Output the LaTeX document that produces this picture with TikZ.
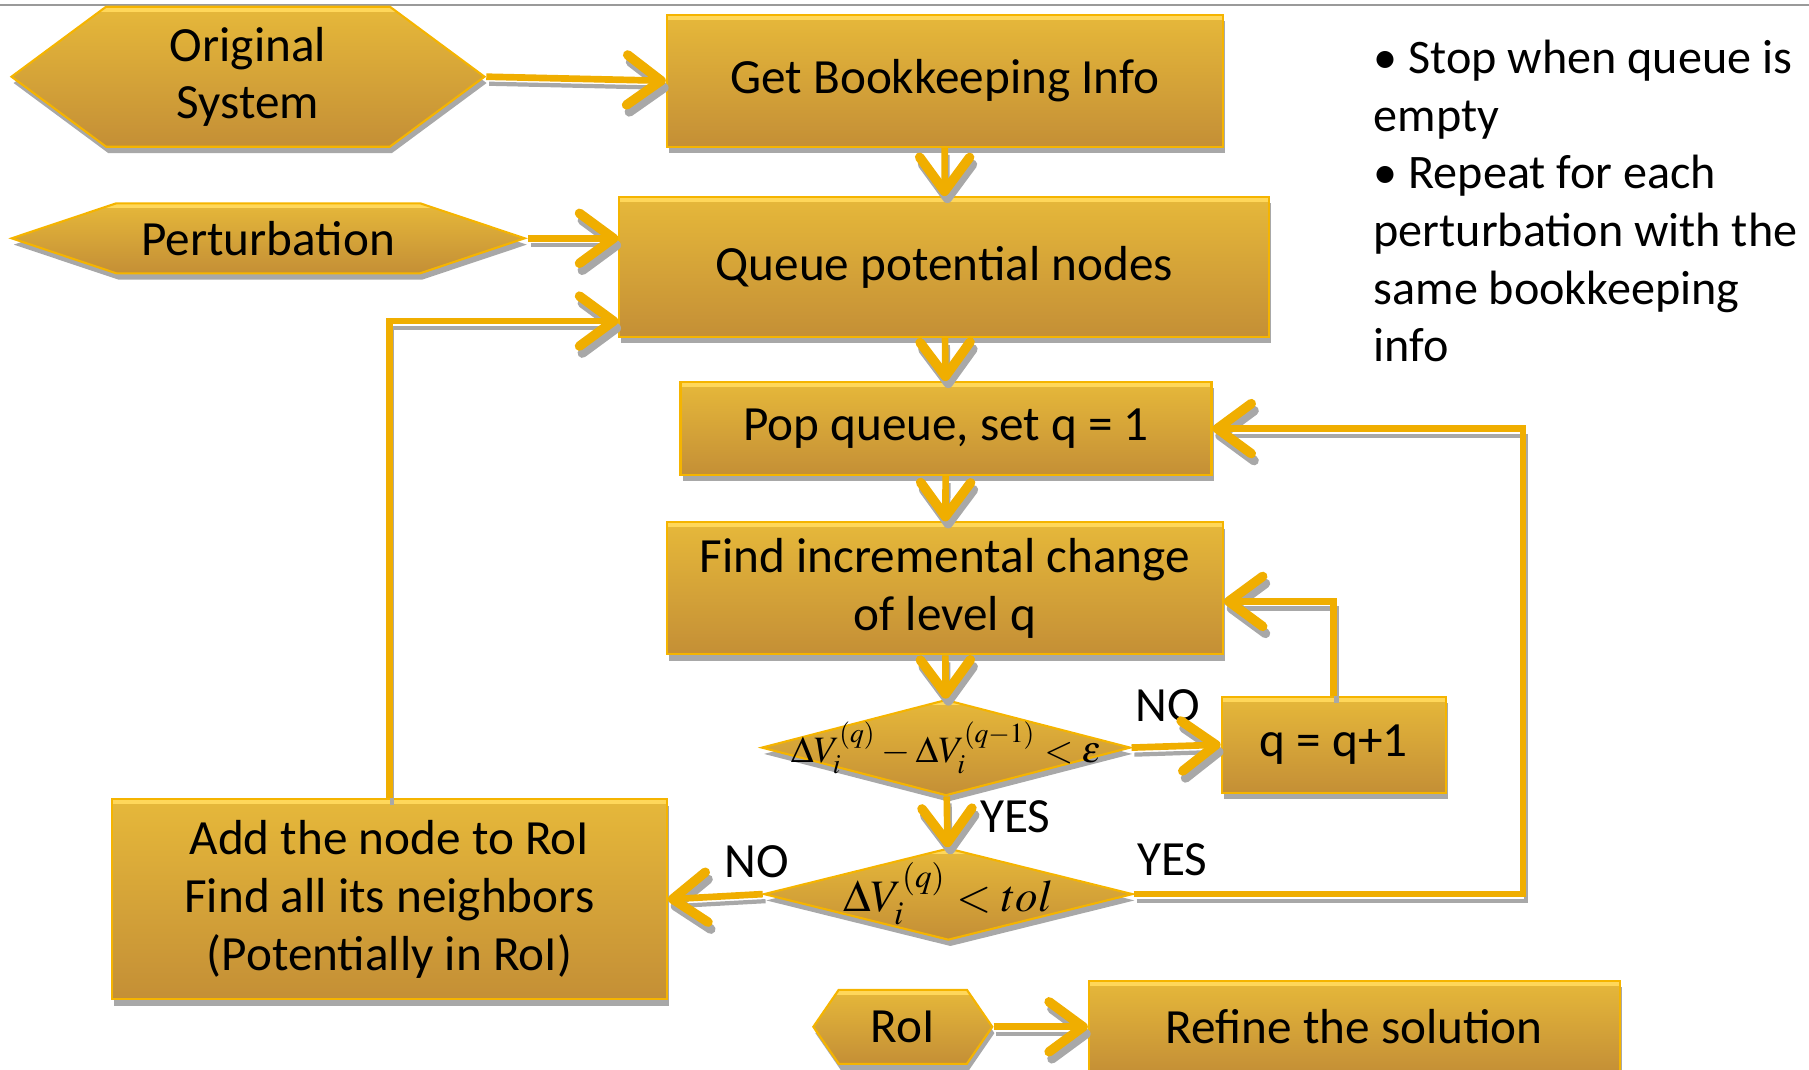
\documentclass[tikz,border=0pt]{standalone}
\usepackage{mathptmx}
\usepackage[no-math]{fontspec}
\setmainfont{Carlito}
\usetikzlibrary{arrows.meta,positioning,shapes.geometric,shapes.symbols,shadows}
\definecolor{goldtop}{HTML}{E6B83A}
\definecolor{goldbot}{HTML}{C48F36}
\definecolor{rim}{HTML}{F5B400}
\definecolor{gloss}{HTML}{FFD75A}
\definecolor{amber}{HTML}{F0AE00}
\definecolor{shade}{HTML}{A8A8A8}
\definecolor{rulegray}{HTML}{9A9A9A}
\newcommand\boxfont{\fontsize{14}{16.4}\selectfont}
\tikzset{
  base/.style={top color=goldtop, bottom color=goldbot, draw=rim, line width=0.6pt, align=center, inner sep=2pt, font=\boxfont, text=black,
    general shadow={fill=shade, shadow xshift=0.6pt, shadow yshift=-1.8pt},
    path picture={\fill[gloss] ([yshift=-0.05cm]path picture bounding box.north west) rectangle (path picture bounding box.north east);}},
  box/.style={base, rectangle},
  hexa/.style={base, signal, signal to=west and east, signal pointer angle=#1},
  dia/.style={base, diamond, inner sep=0pt},
  arr/.style={draw=amber, line width=1.9pt, -{Straight Barb[length=3.4mm,width=5mm,line width=2.7pt,round]},
    preaction={draw=shade, line width=1.2pt, transform canvas={shift={(0.8pt,-2pt)}}}},
  lab/.style={font=\boxfont, text=black, inner sep=0pt},
}
\begin{document}
\begin{tikzpicture}
  \useasboundingbox (0,0) rectangle (18.09,10.695);
  \clip (0,0) rectangle (18.09,10.695);
  \draw[rulegray, line width=0.7pt] (0,10.645) -- (18.09,10.645);

  % main column
  \node[box, minimum width=5.56cm, minimum height=1.32cm] (get) at (9.449,9.887) {Get Bookkeeping Info};
  \node[box, minimum width=6.50cm, minimum height=1.40cm] (queue) at (9.443,8.024) {Queue potential nodes};
  \node[box, minimum width=5.31cm, minimum height=0.93cm] (pop) at (9.460,6.409) {Pop queue, set q = 1};
  \node[box, minimum width=5.56cm, minimum height=1.32cm] (find) at (9.449,4.811) {Find incremental change\\of level q};
  \node[dia, minimum width=3.69cm, minimum height=0.96cm,
    label={[font=\fontsize{10.6}{12}\selectfont]center:$\Delta V_i^{(q)}-\Delta V_i^{(q-1)}<\varepsilon$}] (d1) at (9.460,3.219) {};
  \node[dia, minimum width=3.69cm, minimum height=0.92cm,
    label={[font=\fontsize{12.8}{15}\selectfont]center:$\Delta V_i^{(q)}<tol$}] (d2) at (9.483,1.754) {};
  \node[box, minimum width=2.24cm, minimum height=0.96cm] (q1) at (13.337,3.248) {q = q+1};
  \node[box, minimum width=5.55cm, minimum height=2.00cm] (add) at (3.894,1.702) {Add the node to RoI\\Find all its neighbors\\(Potentially in RoI)};

  % inputs
  \node[hexa=73, minimum width=4.73cm, minimum height=1.40cm] (orig) at (2.480,9.928) {Original\\System};
  \node[hexa=37, minimum width=5.13cm, minimum height=0.70cm] (pert) at (2.682,8.312) {Perturbation};
  \node[hexa=111, minimum width=1.79cm, minimum height=0.74cm] (roi) at (9.028,0.427) {RoI};
  \node[box, minimum width=5.31cm, minimum height=0.92cm] (refine) at (13.544,0.427) {Refine the solution};

  \node[anchor=north west, align=left, font=\fontsize{13.7}{16.4}\selectfont, inner sep=0pt] (notes) at (13.73,10.30)
    {• Stop when queue is\\empty\\• Repeat for each\\perturbation with the\\same bookkeeping\\info};

  \node[lab] (no1) at (11.676,3.634) {NO};
  \node[lab] (yes1) at (10.153,2.527) {YES};
  \node[lab] (no2) at (7.568,2.077) {NO};
  \node[lab] (yes2) at (11.722,2.100) {YES};

  \coordinate (back) at (15.23,6.409);

  \foreach \a/\b in {get/queue, queue/pop, pop/find, find/d1, d1/d2}
    \draw[arr] (\a) -- (\b);
  \draw[arr] (orig.east) -- (get.west);
  \draw[arr] (pert.east) -- (pert.east -| queue.west);
  \draw[arr] (add.north) |- ([yshift=-0.54cm]queue.west);
  \draw[arr] (d1.east) -- (q1.west);
  \draw[arr] (q1.north) |- ([yshift=-0.13cm]find.east);
  \draw[arr] (d2.west) -- (add.east);
  \draw[arr] (d2.east) -| (back) -- (pop.east);
  \draw[arr] (roi.east) -- (refine.west);
\end{tikzpicture}
\end{document}
